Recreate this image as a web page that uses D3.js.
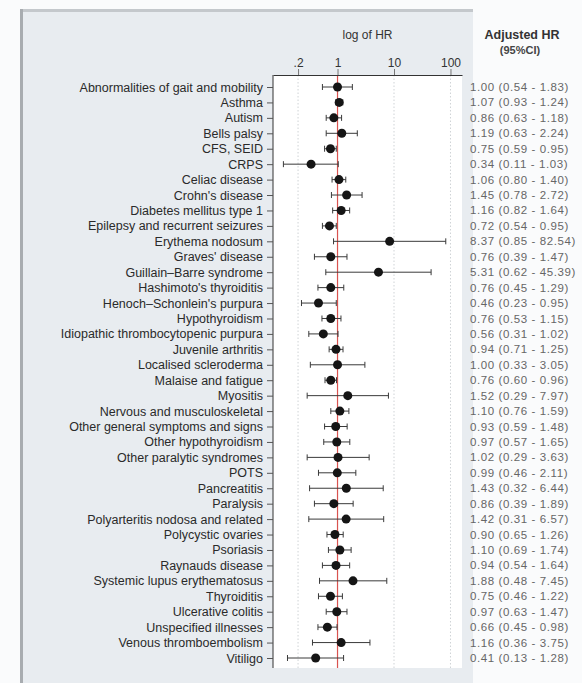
<!DOCTYPE html>
<html>
<head>
<meta charset="utf-8">
<script src="https://cdn.jsdelivr.net/npm/d3@7"></script>
<style>
  html, body { margin: 0; padding: 0; background: #fafbfc; }
  svg { display: block; }
</style>
</head>
<body>
<svg id="chart" width="582" height="683"></svg>
<script>
// Outcomes, in plotting order (top to bottom)
const outcomes = [
  "Abnormalities of gait and mobility", "Asthma", "Autism", "Bells palsy", "CFS, SEID", "CRPS",
  "Celiac disease", "Crohn's disease", "Diabetes mellitus type 1", "Epilepsy and recurrent seizures",
  "Erythema nodosum", "Graves' disease", "Guillain\u2013Barre syndrome", "Hashimoto's thyroiditis",
  "Henoch\u2013Schonlein's purpura", "Hypothyroidism", "Idiopathic thrombocytopenic purpura",
  "Juvenile arthritis", "Localised scleroderma", "Malaise and fatigue", "Myositis",
  "Nervous and musculoskeletal", "Other general symptoms and signs", "Other hypothyroidism",
  "Other paralytic syndromes", "POTS", "Pancreatitis", "Paralysis", "Polyarteritis nodosa and related",
  "Polycystic ovaries", "Psoriasis", "Raynauds disease", "Systemic lupus erythematosus", "Thyroiditis",
  "Ulcerative colitis", "Unspecified illnesses", "Venous thromboembolism", "Vitiligo"
];

// Adjusted hazard ratios with 95% confidence limits
const hr = [1.00, 1.07, 0.86, 1.19, 0.75, 0.34, 1.06, 1.45, 1.16, 0.72, 8.37, 0.76, 5.31, 0.76,
  0.46, 0.76, 0.56, 0.94, 1.00, 0.76, 1.52, 1.10, 0.93, 0.97, 1.02, 0.99, 1.43, 0.86, 1.42,
  0.90, 1.10, 0.94, 1.88, 0.75, 0.97, 0.66, 1.16, 0.41];
const lower = [0.54, 0.93, 0.63, 0.63, 0.59, 0.11, 0.80, 0.78, 0.82, 0.54, 0.85, 0.39, 0.62, 0.45,
  0.23, 0.53, 0.31, 0.71, 0.33, 0.60, 0.29, 0.76, 0.59, 0.57, 0.29, 0.46, 0.32, 0.39, 0.31,
  0.65, 0.69, 0.54, 0.48, 0.46, 0.63, 0.45, 0.36, 0.13];
const upper = [1.83, 1.24, 1.18, 2.24, 0.95, 1.03, 1.40, 2.72, 1.64, 0.95, 82.54, 1.47, 45.39, 1.29,
  0.95, 1.15, 1.02, 1.25, 3.05, 0.96, 7.97, 1.59, 1.48, 1.65, 3.63, 2.11, 6.44, 1.89, 6.57,
  1.26, 1.74, 1.64, 7.45, 1.22, 1.47, 0.98, 3.75, 1.28];

const tickValues = [0.2, 1, 10, 100];
const tickLabels = [".2", "1", "10", "100"];

const rows = outcomes.map((name, i) => ({ name, hr: hr[i], lo: lower[i], hi: upper[i] }));
const fmt = d3.format(".2f");

const svg = d3.select("#chart");
const font = "'Liberation Sans', Arial, sans-serif";

// Grey panel holding the forest plot
svg.append("rect").attr("x", 20).attr("y", 9).attr("width", 453).attr("height", 674)
  .attr("fill", "#e8ecf0");
svg.append("rect").attr("x", 20).attr("y", 9).attr("width", 453).attr("height", 3)
  .attr("fill", "#c4c8cc");
svg.append("rect").attr("x", 20).attr("y", 9).attr("width", 3).attr("height", 674)
  .attr("fill", "#a8acb0");

const plot = { left: 273, right: 462, top: 75, bottom: 668 };

const x = d3.scaleLog().domain([0.072, 160]).range([plot.left, plot.right]);
const y = d3.scalePoint().domain(outcomes).range([87, 658]);

// White plotting area
svg.append("rect").attr("x", plot.left).attr("y", plot.top)
  .attr("width", plot.right - plot.left).attr("height", plot.bottom - plot.top)
  .attr("fill", "#ffffff");

// Dotted reference lines at each labelled tick
svg.append("g").selectAll("line").data(tickValues.filter(v => v !== 1)).join("line")
  .attr("x1", d => x(d)).attr("x2", d => x(d))
  .attr("y1", plot.top).attr("y2", plot.bottom)
  .attr("stroke", "#cfd3d6").attr("stroke-dasharray", "1.5,2").attr("stroke-width", 1);

// Null effect line at HR = 1
svg.append("line").attr("x1", x(1)).attr("x2", x(1))
  .attr("y1", plot.top).attr("y2", plot.bottom)
  .attr("stroke", "#d9534f").attr("stroke-width", 1.2);

// Top axis
const xAxis = d3.axisTop(x).tickValues(tickValues)
  .tickFormat((d, i) => tickLabels[i]).tickSize(6).tickSizeOuter(0);
const gx = svg.append("g").attr("transform", `translate(0,${plot.top})`).call(xAxis);
gx.select(".domain").attr("stroke", "#333");
gx.selectAll(".tick line").attr("stroke", "#777");
gx.selectAll(".tick text").attr("font-family", font).attr("font-size", 12)
  .attr("fill", "#333").attr("dy", "0.1em");

svg.append("text").attr("x", (plot.left + plot.right) / 2).attr("y", 39)
  .attr("text-anchor", "middle").attr("font-family", font).attr("font-size", 12)
  .attr("fill", "#333").text("log of HR");

// Left axis with outcome labels
const yAxis = d3.axisLeft(y).tickSize(6).tickPadding(4).tickSizeOuter(0);
const gy = svg.append("g").attr("transform", `translate(${plot.left},0)`).call(yAxis);
gy.select(".domain").attr("d", `M0,${plot.top}V${plot.bottom}`).attr("stroke", "#333");
gy.selectAll(".tick line").attr("stroke", "#555");
gy.selectAll(".tick text").attr("font-family", font).attr("font-size", 12.5).attr("fill", "#2a2a2a");

// Confidence intervals
const ci = svg.append("g").attr("stroke", "#3a3a3a").attr("stroke-width", 1);
ci.selectAll("line.ci").data(rows).join("line").attr("class", "ci")
  .attr("x1", d => x(d.lo)).attr("x2", d => x(d.hi))
  .attr("y1", d => y(d.name)).attr("y2", d => y(d.name));
ci.selectAll("line.lo").data(rows).join("line").attr("class", "lo")
  .attr("x1", d => x(d.lo)).attr("x2", d => x(d.lo))
  .attr("y1", d => y(d.name) - 3).attr("y2", d => y(d.name) + 3);
ci.selectAll("line.hi").data(rows).join("line").attr("class", "hi")
  .attr("x1", d => x(d.hi)).attr("x2", d => x(d.hi))
  .attr("y1", d => y(d.name) - 3).attr("y2", d => y(d.name) + 3);

// Point estimates
svg.append("g").selectAll("circle").data(rows).join("circle")
  .attr("cx", d => x(d.hr)).attr("cy", d => y(d.name)).attr("r", 4.5)
  .attr("fill", "#151515");

// Right-hand table of adjusted HRs
svg.append("text").attr("x", 522).attr("y", 39).attr("text-anchor", "middle")
  .attr("font-family", font).attr("font-size", 12.5).attr("font-weight", "bold")
  .attr("fill", "#333").text("Adjusted HR");
svg.append("text").attr("x", 520).attr("y", 54).attr("text-anchor", "middle")
  .attr("font-family", font).attr("font-size", 11).attr("font-weight", "bold")
  .attr("fill", "#444").text("(95%CI)");

svg.append("g").selectAll("text").data(rows).join("text")
  .attr("x", 470).attr("y", d => y(d.name)).attr("dy", "0.35em")
  .attr("font-family", font).attr("font-size", 11.5).attr("letter-spacing", 0.6)
  .attr("fill", "#666")
  .text(d => `${fmt(d.hr)} (${fmt(d.lo)} - ${fmt(d.hi)})`);
</script>
</body>
</html>
